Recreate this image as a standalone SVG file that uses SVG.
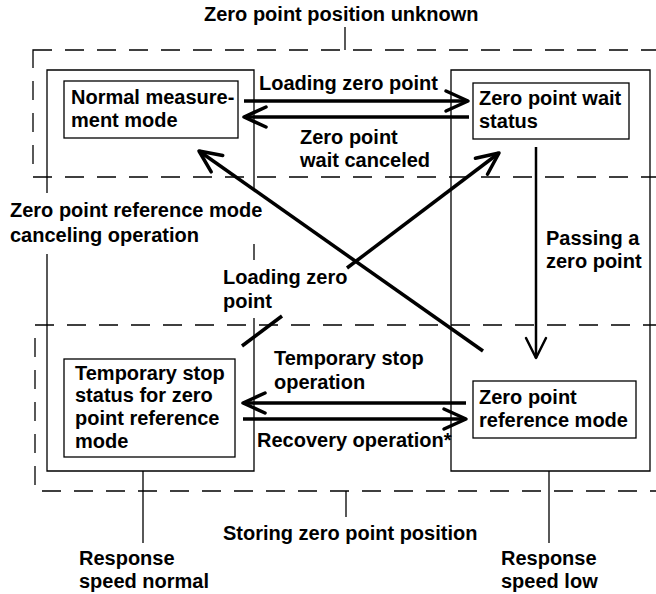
<svg xmlns="http://www.w3.org/2000/svg" width="656" height="594" viewBox="0 0 656 594">
<style>
text{font-family:"Liberation Sans",Arial,sans-serif;font-weight:bold;font-size:20px;fill:#000}
.thin{fill:none;stroke:#000;stroke-width:1.3}
.dash{fill:none;stroke:#000;stroke-width:1.3;stroke-dasharray:19 13}
.node{fill:#fff;stroke:#000;stroke-width:1.3}
.arr{fill:none;stroke:#000;stroke-width:3.5;marker-end:url(#ah)}
.arr2{fill:none;stroke:#000;stroke-width:2.5;marker-end:url(#ah2)}
</style>
<defs>
<marker id="ah" viewBox="-30 -15 35 30" refX="0" refY="0" markerWidth="35" markerHeight="30" orient="auto" markerUnits="userSpaceOnUse">
<path d="M-22,-10 L0,0 L-22,10" fill="none" stroke="#000" stroke-width="3.5" stroke-linejoin="round" stroke-linecap="round"/>
</marker>
<marker id="ah2" viewBox="-30 -15 35 30" refX="0" refY="0" markerWidth="35" markerHeight="30" orient="auto" markerUnits="userSpaceOnUse">
<path d="M-20,-10 L0,0 L-20,10" fill="none" stroke="#000" stroke-width="2.5" stroke-linejoin="round" stroke-linecap="round"/>
</marker>
</defs>
<rect width="656" height="594" fill="#fff"/>
<g id="regions">
<rect class="dash" x="33" y="50" width="650" height="127"/>
<rect class="dash" x="35" y="325" width="650" height="166"/>
<path class="thin" d="M47,193 V70 H254 V190 M254,244 V260 M254,318 V471 H47 V254"/>
<path class="thin" d="M451,70 H650 V471 H451 Z"/>
<path class="thin" d="M345,27 V50 M346,491 V517 M143,471 V543 M549,471 V543"/>
<text x="204" y="21">Zero point position unknown</text>
<text x="223" y="540">Storing zero point position</text>
<text x="79" y="565">Response</text>
<text x="79" y="588">speed normal</text>
<text x="501" y="565">Response</text>
<text x="501" y="588">speed low</text>
</g>
<g id="n1">
<rect class="node" x="64" y="81" width="174" height="57"/>
<text x="71" y="104">Normal measure-</text>
<text x="71" y="127">ment mode</text>
</g>
<g id="n2">
<rect class="node" x="473" y="83" width="156" height="56"/>
<text x="479" y="105">Zero point wait</text>
<text x="479" y="128">status</text>
</g>
<g id="n3">
<rect class="node" x="64" y="359" width="171" height="98"/>
<text x="75" y="380">Temporary stop</text>
<text x="75" y="402">status for zero</text>
<text x="75" y="425">point reference</text>
<text x="75" y="448">mode</text>
</g>
<g id="n4">
<rect class="node" x="473" y="381" width="163" height="57"/>
<text x="479" y="404">Zero point</text>
<text x="479" y="427">reference mode</text>
</g>
<g id="connectors">
<path class="arr" d="M244,101 H468"/>
<path class="arr" d="M469,117 H244"/>
<path class="arr2" d="M536,147 V358"/>
<path class="arr" d="M483,351 L199,151"/>
<path class="thin" style="stroke-width:3.5" d="M242,346 L282,316"/>
<path class="arr" d="M347,268 L499,153"/>
<path class="arr" d="M466,403 H243"/>
<path class="arr" d="M243,419 H466"/>
<text x="259" y="90">Loading zero point</text>
<text x="300" y="144">Zero point</text>
<text x="300" y="167">wait canceled</text>
<text x="10" y="217">Zero point reference mode</text>
<text x="10" y="242">canceling operation</text>
<text x="223" y="284">Loading zero</text>
<text x="223" y="308">point</text>
<text x="546" y="245">Passing a</text>
<text x="546" y="268">zero point</text>
<text x="274" y="365">Temporary stop</text>
<text x="274" y="389">operation</text>
<text x="257" y="447">Recovery operation*</text>
</g>
</svg>
